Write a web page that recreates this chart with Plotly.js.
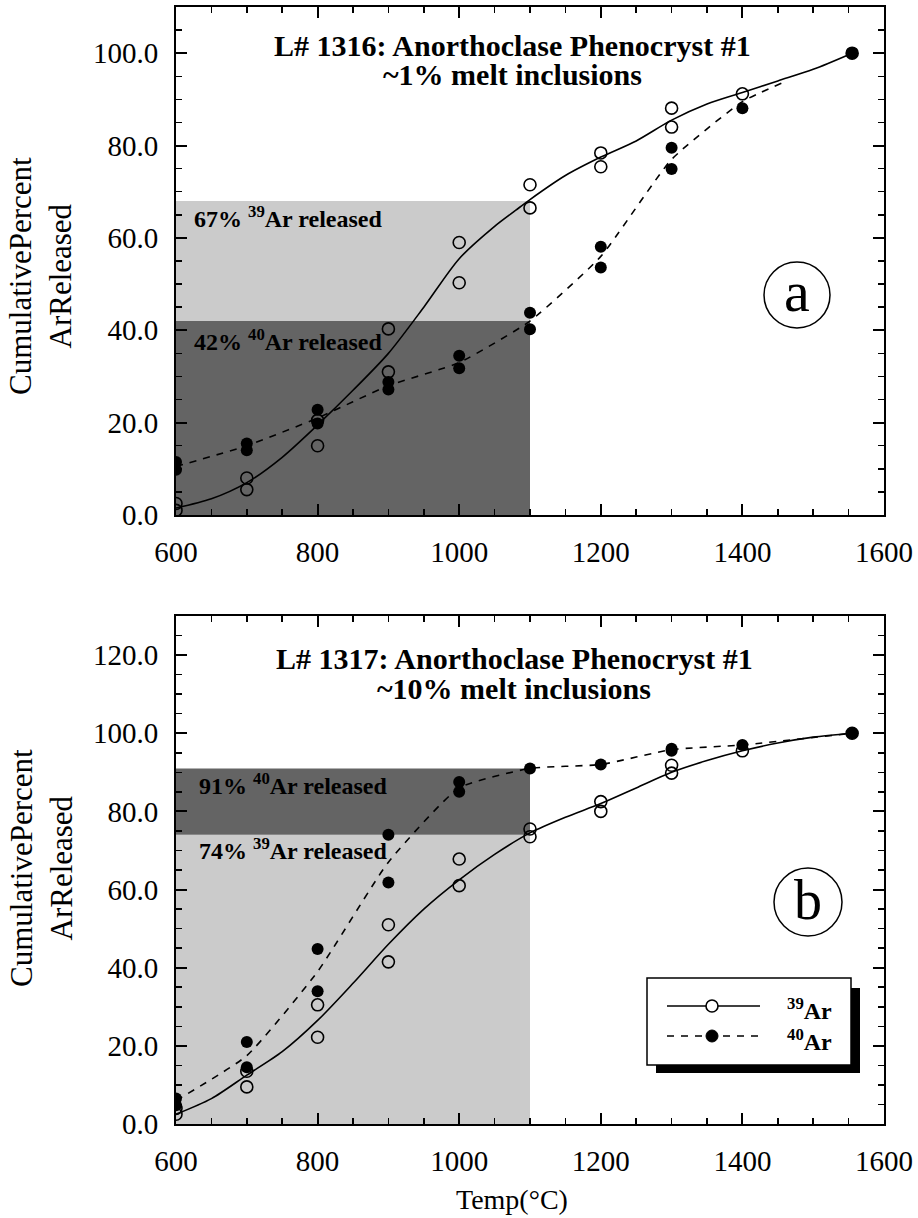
<!DOCTYPE html>
<html>
<head>
<meta charset="utf-8">
<script src="https://cdn.plot.ly/plotly-3.0.1.min.js"></script>
<style>html,body{margin:0;padding:0;background:#fff;}#chart{width:918px;height:1218px;}</style>
</head>
<body>
<div id="chart"></div>
<script>
// ---------------- DATA ----------------
// Panel (a): L# 1316, ~1% melt inclusions
const aTemp39 = [600,600,700,700,800,800,900,900,1000,1000,1100,1100,1200,1200,1300,1300,1400,1555];
const aAr39   = [2.5,1.0,8.0,5.5,20.5,15.0,40.3,31.0,59.0,50.3,71.5,66.5,78.4,75.4,88.1,84.0,91.2,100.0];
const aTemp40 = [600,600,700,700,800,800,900,900,1000,1000,1100,1100,1200,1200,1300,1300,1400,1555];
const aAr40   = [11.5,9.8,15.5,14.0,22.8,19.8,28.8,27.2,34.5,31.8,43.8,40.2,58.1,53.6,79.5,74.9,88.1,100.0];
// smooth fit curve (39Ar, solid) and dashed trend (40Ar)
const aFit39T = [600,650,700,750,800,850,900,950,1000,1050,1080,1100,1150,1200,1250,1300,1350,1400,1450,1500,1555];
const aFit39V = [1.5,3.5,7.0,12.5,19.5,27.0,35.0,45.0,55.5,62.5,66.0,68.3,73.5,77.5,81.0,85.5,89.0,91.5,94.0,96.5,100.0];
const aFit40T = [600,700,800,900,1000,1100,1200,1300,1400,1455];
const aFit40V = [10.5,15.0,21.0,28.0,33.0,42.0,56.0,77.0,89.5,93.5];
// shaded release bands (panel a)
const aBand39 = 68;   // 67% 39Ar released
const aBand40 = 42;   // 42% 40Ar released

// Panel (b): L# 1317, ~10% melt inclusions
const bTemp39 = [600,600,700,700,800,800,900,900,1000,1000,1100,1100,1200,1200,1300,1300,1400,1555];
const bAr39   = [2.5,4.0,13.5,9.5,30.5,22.2,51.0,41.5,67.8,61.0,75.5,73.5,82.5,80.0,91.8,89.8,95.5,100.0];
const bTemp40 = [600,600,700,700,800,800,900,900,1000,1000,1100,1200,1300,1300,1400,1555];
const bAr40   = [6.5,4.8,21.0,14.5,44.8,34.0,74.0,61.8,87.5,85.0,91.0,92.0,96.0,95.5,97.0,100.0];
const bFit39T = [600,650,700,750,800,850,900,950,1000,1050,1100,1150,1200,1250,1300,1350,1400,1450,1500,1555];
const bFit39V = [2.5,6.5,12.5,18.5,26.5,36.0,46.0,55.0,62.5,69.0,74.5,78.5,82.0,86.0,90.0,93.0,95.5,97.5,99.0,100.0];
const bFit40T = [600,700,800,900,1000,1100,1200,1300,1400,1555];
const bFit40V = [6.0,17.5,39.0,67.0,86.0,91.0,92.0,95.8,97.0,100.0];
const bBand39 = 74;   // 74% 39Ar released
const bBand40 = 91;   // 91% 40Ar released

const bandStart = 600, bandEnd = 1100;
const xTicks = [600,800,1000,1200,1400,1600];

// ---------------- STYLE / LAYOUT ----------------
const W = 918, H = 1218;
const px = v => v / W;
const py = v => 1 - v / H;
const SERIF = 'Liberation Serif';

const traces = [];
function panel(xa, ya, t39, v39, t40, v40, f39t, f39v, f40t, f40v) {
  traces.push({x:f39t, y:f39v, xaxis:xa, yaxis:ya, mode:'lines', line:{color:'black', width:1.6, shape:'spline', smoothing:0.8}, hoverinfo:'skip', showlegend:false});
  traces.push({x:f40t, y:f40v, xaxis:xa, yaxis:ya, mode:'lines', line:{color:'black', width:1.6, dash:'7px,7px', shape:'spline', smoothing:0.5}, hoverinfo:'skip', showlegend:false});
  traces.push({x:t40, y:v40, xaxis:xa, yaxis:ya, mode:'markers', marker:{symbol:'circle', size:12, color:'black'}, showlegend:false});
  traces.push({x:t39, y:v39, xaxis:xa, yaxis:ya, mode:'markers', marker:{symbol:'circle-open', size:12, color:'black', line:{width:1.6}}, showlegend:false});
}
panel('x','y', aTemp39, aAr39, aTemp40, aAr40, aFit39T, aFit39V, aFit40T, aFit40V);
panel('x2','y2', bTemp39, bAr39, bTemp40, bAr40, bFit39T, bFit39V, bFit40T, bFit40V);

const xDom = [px(176), px(884)];
const axBase = {
  showline:true, linewidth:2, linecolor:'black', mirror:'allticks',
  ticks:'inside', ticklen:11, tickwidth:2, tickcolor:'black',
  showgrid:false, zeroline:false,
  tickfont:{family:SERIF, size:29, color:'black'}
};
function xax(anchor) {
  return Object.assign({}, axBase, {domain:xDom, anchor:anchor, range:[600,1600], tickvals:xTicks,
    minor:{ticks:'inside', dtick:50, tick0:600, ticklen:6, tickwidth:1.5, tickcolor:'black', showgrid:false},
    ticklabelstandoff:10});
}
function yax(anchor, dom, top) {
  return Object.assign({}, axBase, {domain:dom, anchor:anchor, range:[0, top], dtick:20, tick0:0, tickformat:'.1f',
    minor:{ticks:'inside', dtick:5, ticklen:6, tickwidth:1.5, tickcolor:'black', showgrid:false},
    ticklabelstandoff:10});
}

const shapes = [
  // panel a bands
  {type:'rect', xref:'x', yref:'y', x0:bandStart, x1:bandEnd, y0:0, y1:aBand39, fillcolor:'#cbcbcb', line:{width:0}, layer:'below'},
  {type:'rect', xref:'x', yref:'y', x0:bandStart, x1:bandEnd, y0:0, y1:aBand40, fillcolor:'#646464', line:{width:0}, layer:'below'},
  // panel b bands
  {type:'rect', xref:'x2', yref:'y2', x0:bandStart, x1:bandEnd, y0:0, y1:bBand39, fillcolor:'#cbcbcb', line:{width:0}, layer:'below'},
  {type:'rect', xref:'x2', yref:'y2', x0:bandStart, x1:bandEnd, y0:bBand39, y1:bBand40, fillcolor:'#646464', line:{width:0}, layer:'below'},
  // circled letters
  {type:'circle', xref:'paper', yref:'paper', x0:px(764), x1:px(830), y0:py(328), y1:py(262), line:{color:'black', width:1.5}},
  {type:'circle', xref:'paper', yref:'paper', x0:px(774), x1:px(842), y0:py(936), y1:py(868), line:{color:'black', width:1.5}},
  // legend box shadow + box
  {type:'rect', xref:'paper', yref:'paper', x0:px(656), x1:px(860), y0:py(1073), y1:py(988), fillcolor:'black', line:{width:0}},
  {type:'rect', xref:'paper', yref:'paper', x0:px(647), x1:px(851), y0:py(1065), y1:py(978), fillcolor:'white', line:{color:'black', width:1.5}},
  // legend line samples
  {type:'line', xref:'paper', yref:'paper', x0:px(667), x1:px(760), y0:py(1006), y1:py(1006), line:{color:'black', width:1.6}},
  {type:'line', xref:'paper', yref:'paper', x0:px(667), x1:px(760), y0:py(1036), y1:py(1036), line:{color:'black', width:1.6, dash:'7px,7px'}},
  // legend markers
  {type:'circle', xref:'paper', yref:'paper', x0:px(706), x1:px(718), y0:py(1012), y1:py(1000), fillcolor:'white', line:{color:'black', width:1.6}},
  {type:'circle', xref:'paper', yref:'paper', x0:px(706), x1:px(718), y0:py(1042), y1:py(1030), fillcolor:'black', line:{color:'black', width:1}}
];

const txt = (t, x, y, size, xa, ya, extra) => Object.assign({text:t, xref:'paper', yref:'paper', x:px(x), y:py(y), showarrow:false,
  xanchor:xa||'center', yanchor:ya||'middle', font:{family:SERIF, size:size, color:'black'}}, extra||{});
const bandTxt = (t, xr, yr, xv, yv) => ({text:'<b>'+t+'</b>', xref:xr, yref:yr, x:xv, y:yv, showarrow:false, xanchor:'left', yanchor:'middle',
  font:{family:SERIF, size:24, color:'black'}});

const annotations = [
  txt('<b>L# 1316: Anorthoclase Phenocryst #1</b>', 512, 45, 30),
  txt('<b>~1% melt inclusions</b>', 512, 74, 30),
  txt('<b>L# 1317: Anorthoclase Phenocryst #1</b>', 514, 659, 30),
  txt('<b>~10% melt inclusions</b>', 514, 688, 30),
  bandTxt('67% <sup>39</sup>Ar released', 'x', 'y', 622, 64.5),
  bandTxt('42% <sup>40</sup>Ar released', 'x', 'y', 622, 38),
  bandTxt('91% <sup>40</sup>Ar released', 'x2', 'y2', 630, 87),
  bandTxt('74% <sup>39</sup>Ar released', 'x2', 'y2', 630, 70.5),
  txt('a', 797, 291, 58),
  txt('b', 808, 900, 56),
  txt('<b><sup>39</sup>Ar</b>', 785, 1009, 24, 'left'),
  txt('<b><sup>40</sup>Ar</b>', 785, 1040, 24, 'left'),
  txt('CumulativePercent<br>ArReleased', 41, 276, 31, 'center', 'middle', {textangle:-90}),
  txt('CumulativePercent<br>ArReleased', 41, 868, 31, 'center', 'middle', {textangle:-90}),
  txt('Temp(°C)', 512, 1199, 28)
];

const layout = {
  width:W, height:H, margin:{l:0, r:0, t:0, b:0},
  paper_bgcolor:'white', plot_bgcolor:'rgba(0,0,0,0)',
  showlegend:false,
  xaxis: xax('y'),
  yaxis: yax('x', [py(515), py(7)], 110),
  xaxis2: xax('y2'),
  yaxis2: yax('x2', [py(1124), py(616)], 130),
  shapes: shapes,
  annotations: annotations
};

Plotly.newPlot('chart', traces, layout, {displayModeBar:false, staticPlot:true});
</script>
</body>
</html>
